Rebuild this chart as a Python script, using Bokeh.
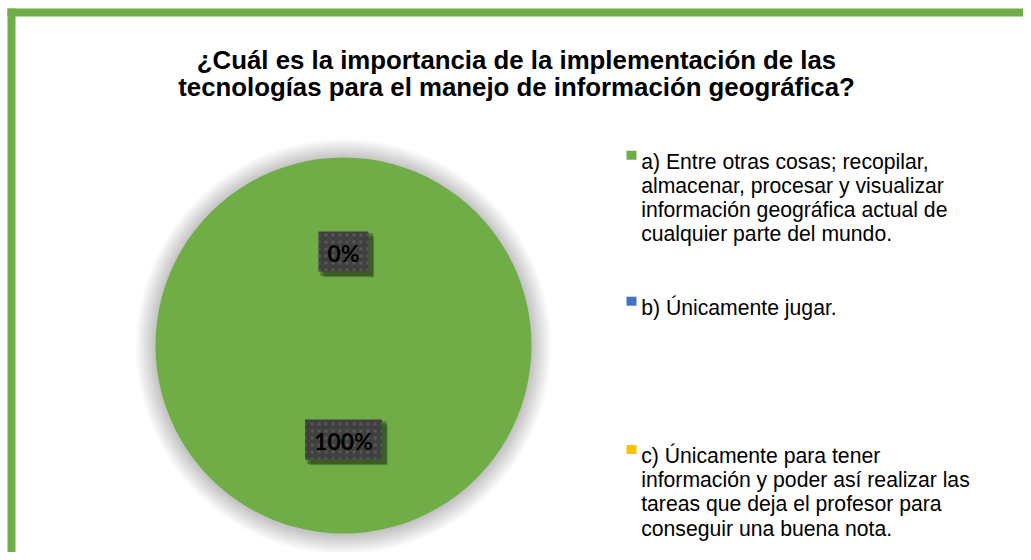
import math
import numpy as np
from bokeh.plotting import figure
from bokeh.models import Range1d
from bokeh.core.properties import value
from bokeh.embed import file_html
from bokeh.resources import INLINE

# ---------------- data ----------------
title_lines = ["¿Cuál es la importancia de la implementación de las",
               "tecnologías para el manejo de información geográfica?"]
categories = [
    ["a) Entre otras cosas; recopilar,", "almacenar, procesar y visualizar",
     "información geográfica actual de", "cualquier parte del mundo."],
    ["b) Únicamente jugar."],
    ["c) Únicamente para tener", "información y poder así realizar las",
     "tareas que deja el profesor para", "conseguir una buena nota."],
]
values = [100, 0, 0]
colors = ["#70AD47", "#4472C4", "#FFC000"]

# ---------------- layout ----------------
W, H = 1023, 552
CX, CY, R = 343, 345, 188
LEG_X_SQ, LEG_X_TXT = 631, 640.7
LEG_FIRST_BASELINE = [160.7, 306.7, 455.0]
LEG_LINE_H = 24.2

p = figure(width=W, height=H, output_backend="svg", toolbar_location=None,
           x_range=Range1d(0, W), y_range=Range1d(H, 0),
           x_axis_type=None, y_axis_type=None, min_border=0,
           background_fill_color="white", border_fill_color="white")
p.grid.visible = False
p.outline_line_color = None

# green frame (top and left edges)
p.quad(left=[7, 7], right=[W, 15], top=[8, 8], bottom=[16, H],
       fill_color="#70AD47", line_color=None)

# title
for i, t in enumerate(title_lines):
    p.text(x=[516], y=[59.3 + 27.4 * i], text=[t], text_align="center",
           text_baseline="alphabetic", text_font=value("Liberation Sans"),
           text_font_style="bold", text_font_size="25.8px", text_color="#000000")

# pie shadow / glow
for k in range(20, 0, -1):
    p.circle(x=[CX], y=[CY + 1], radius=R + k, fill_color="black",
             fill_alpha=0.011, line_color=None)

# pie wedges (clockwise from top)
vals = np.array(values, dtype=float)
fr = vals / vals.sum()
cum = np.concatenate([[0], np.cumsum(fr)])
theta0 = cum[:-1] * 2 * math.pi
theta1 = cum[1:] * 2 * math.pi
for i in range(len(values)):
    if fr[i] <= 0:
        continue
    a0 = theta0[i]
    a1 = theta1[i]
    if a1 - a0 >= 2 * math.pi - 1e-9:
        a1 = a0 + 2 * math.pi - 1e-4
    p.wedge(x=[CX], y=[CY], radius=R, start_angle=[math.pi / 2 - a0],
            end_angle=[math.pi / 2 - a1], direction="clock",
            fill_color=colors[i], line_color=None)

# data labels
mid = (theta0 + theta1) / 2
for i in range(len(values)):
    if i == 2:
        continue  # the two 0% labels coincide; draw once
    lab = f"{values[i]:.0f}%"
    lx = CX + 0.5 * R * math.sin(mid[i])
    ly = CY - 0.5 * R * math.cos(mid[i])
    bw = 13.5 * len(lab) + 23
    bh = 40
    for s, a in [(6, 0.08), (5, 0.12), (4, 0.16), (3, 0.2)]:
        p.rect(x=[lx + s], y=[ly + s], width=bw + (6 - s), height=bh + (6 - s),
               fill_color="black", fill_alpha=a, line_color=None)
    p.rect(x=[lx], y=[ly], width=bw, height=bh, fill_color="#404040",
           line_color=None, hatch_pattern=".", hatch_color="#565656",
           hatch_scale=7, hatch_weight=1.0)
    p.text(x=[lx], y=[ly + 1], text=[lab], text_align="center",
           text_baseline="middle", text_font=value("Lato"),
           text_font_style="bold", text_font_size="23px", text_color="#000000")

# legend
for i, lines in enumerate(categories):
    b0 = LEG_FIRST_BASELINE[i]
    p.rect(x=[LEG_X_SQ], y=[b0 - 6], width=10, height=9,
           fill_color=colors[i], line_color=None)
    for j, ln in enumerate(lines):
        p.text(x=[LEG_X_TXT], y=[b0 + LEG_LINE_H * j], text=[ln],
               text_align="left", text_baseline="alphabetic",
               text_font=value("Liberation Sans"), text_font_size="21.2px",
               text_color="#000000")

open("out.html", "w").write(file_html(p, INLINE))
